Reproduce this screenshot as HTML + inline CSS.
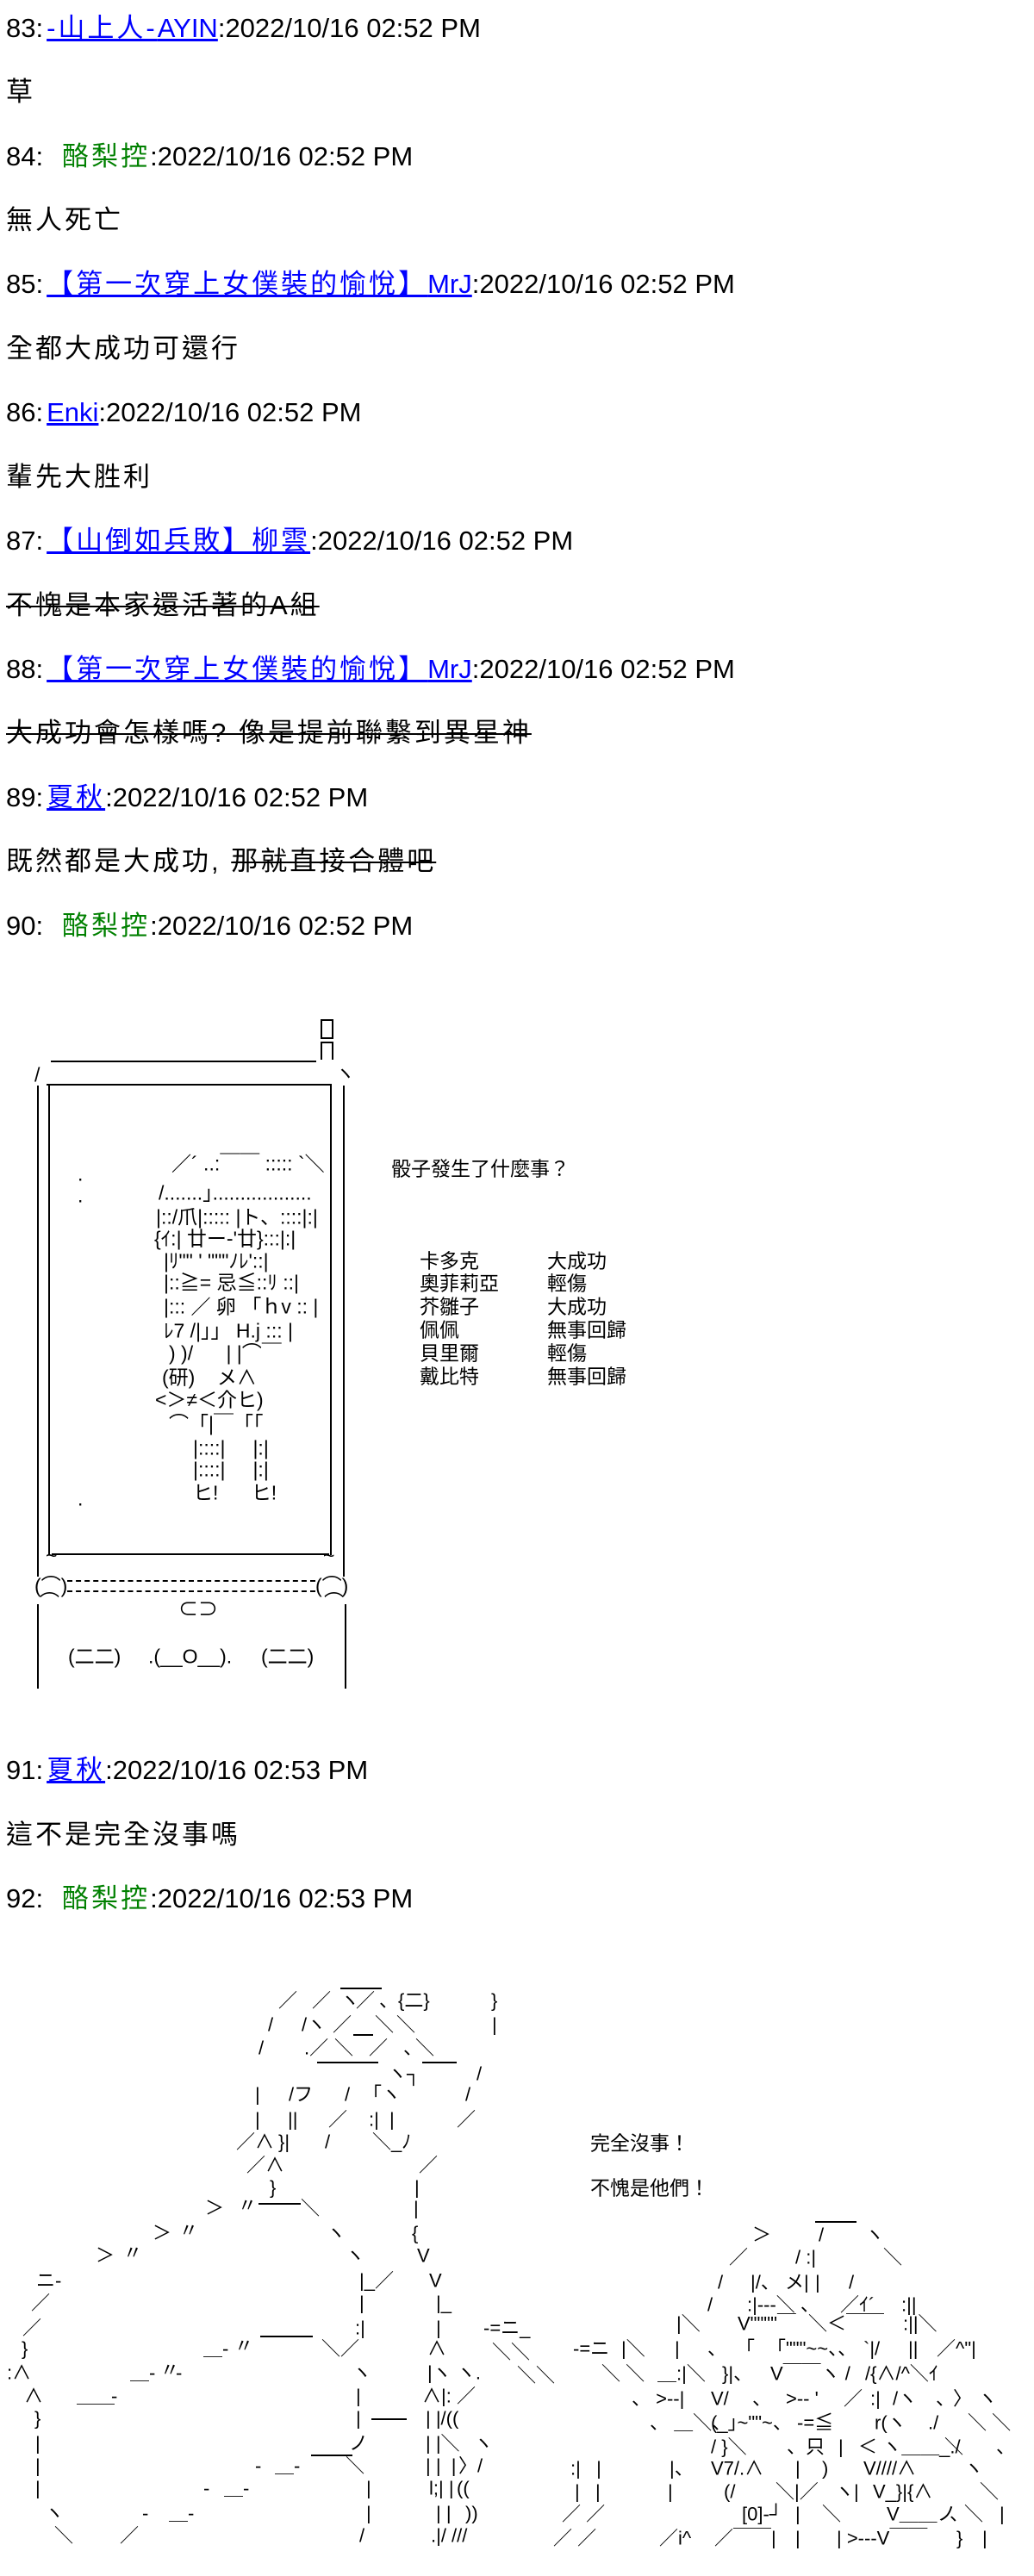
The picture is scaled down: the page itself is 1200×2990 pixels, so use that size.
<!DOCTYPE html>
<html><head><meta charset="utf-8"><style>
html,body{margin:0;padding:0;background:#fff;}
body{width:1200px;height:2990px;position:relative;overflow:hidden;font-family:"Liberation Sans","Noto Sans CJK TC","Noto Sans CJK JP",sans-serif;color:#000;}
.p{position:absolute;left:7px;font-size:31px;line-height:40px;white-space:pre;transform:translateY(-50%);}
.c{letter-spacing:3px;}
.lk{color:#00f;text-decoration:underline;letter-spacing:3px;margin-left:4px;}
.lt{letter-spacing:0;}
.gr{color:#008000;letter-spacing:3px;margin-left:22px;}
.s{text-decoration:line-through;text-decoration-thickness:2px;}
.a{position:absolute;white-space:pre;font-size:22px;line-height:27px;transform:translateY(-50%);font-family:"Liberation Sans","Noto Sans CJK JP",sans-serif;}
.b{font-size:23px;}
.h{position:absolute;height:2px;background:#000;}
.v{position:absolute;width:2px;background:#000;}
.d{position:absolute;height:0;border-top:2px dashed #000;}
</style></head><body>

<div class="p" style="top:33px">83:<span class="lk">-山上人-<span class="lt">AYIN</span></span>:2022/10/16 02:52 PM</div>
<div class="p c" style="top:107px">草</div>
<div class="p" style="top:182px">84:<span class="gr">酪梨控</span>:2022/10/16 02:52 PM</div>
<div class="p c" style="top:256px">無人死亡</div>
<div class="p" style="top:330px">85:<span class="lk">【第一次穿上女僕裝的愉悅】<span class="lt">MrJ</span></span>:2022/10/16 02:52 PM</div>
<div class="p c" style="top:405px">全都大成功可還行</div>
<div class="p" style="top:479px">86:<span class="lk"><span class="lt">Enki</span></span>:2022/10/16 02:52 PM</div>
<div class="p c" style="top:554px">輩先大胜利</div>
<div class="p" style="top:628px">87:<span class="lk">【山倒如兵敗】柳雲</span>:2022/10/16 02:52 PM</div>
<div class="p c s" style="top:703px">不愧是本家還活著的A組</div>
<div class="p" style="top:777px">88:<span class="lk">【第一次穿上女僕裝的愉悅】<span class="lt">MrJ</span></span>:2022/10/16 02:52 PM</div>
<div class="p c s" style="top:851px">大成功會怎樣嗎? 像是提前聯繫到異星神</div>
<div class="p" style="top:926px">89:<span class="lk">夏秋</span>:2022/10/16 02:52 PM</div>
<div class="p c" style="top:1000px">既然都是大成功, <span class="s">那就直接合體吧</span></div>
<div class="p" style="top:1075px">90:<span class="gr">酪梨控</span>:2022/10/16 02:52 PM</div>

<!-- AA1 phone -->
<div style="position:absolute;left:372px;top:1183px;width:11px;height:19px;border:2px solid #000;"></div>
<div style="position:absolute;left:372px;top:1209px;width:11px;height:19px;border:2px solid #000;border-bottom:none;"></div>
<div class="h" style="left:59px;top:1231px;width:308px"></div>
<div class="a b" style="left:40px;top:1248px">/</div>
<div class="a b" style="left:389px;top:1246px">ヽ</div>
<div class="h" style="left:54px;top:1258px;width:331px"></div>
<div class="v" style="left:43px;top:1260px;height:570px"></div>
<div class="v" style="left:398px;top:1260px;height:570px"></div>
<div class="v" style="left:56px;top:1260px;height:545px"></div>
<div class="v" style="left:383px;top:1260px;height:545px"></div>
<div class="h" style="left:60px;top:1803px;width:322px"></div>
<div class="a b" style="left:53px;top:1806px">~</div>
<div class="a b" style="left:375px;top:1806px">~</div>
<div class="a b" style="left:40px;top:1841px">(⌒)</div>
<div class="a b" style="left:366px;top:1841px">(⌒)</div>
<div class="d" style="left:78px;top:1834px;width:288px"></div>
<div class="d" style="left:78px;top:1846px;width:288px"></div>
<div class="a b" style="left:46px;top:1860px">⌒</div>
<div class="a b" style="left:376px;top:1860px">⌒</div>
<div class="v" style="left:43px;top:1862px;height:98px"></div>
<div class="v" style="left:400px;top:1862px;height:98px"></div>
<div class="a b" style="left:207px;top:1868px">⊂⊃</div>
<div class="a b" style="left:79px;top:1923px">(二二)</div>
<div class="a b" style="left:172px;top:1923px">.(__O__).</div>
<div class="a b" style="left:303px;top:1923px">(二二)</div>
<div class="a b" style="left:90px;top:1363px">.</div>
<div class="a b" style="left:90px;top:1388px">.</div>
<div class="a b" style="left:90px;top:1740px">.</div>
<!-- figure -->
<div class="a b" style="left:199px;top:1351px">／´ ..:￣￣ ::::: `＼</div>
<div class="a b" style="left:184px;top:1385px">/.......｣..................</div>
<div class="a b" style="left:181px;top:1413px">|::/爪|::::: |ト、::::|:|</div>
<div class="a b" style="left:179px;top:1438px">{ｲ:| 廿ー‐'廿}:::|:|</div>
<div class="a b" style="left:190px;top:1464px">|ﾘ"" ' """ﾉﾚ'::|</div>
<div class="a b" style="left:190px;top:1489px">|::≧= 忌≦::ﾘ ::|</div>
<div class="a b" style="left:190px;top:1517px">|::: ／ 卵 「ｈv :: |</div>
<div class="a b" style="left:190px;top:1545px">ﾚ7 /|」」 H.j ::: |</div>
<div class="a b" style="left:196px;top:1571px">) )/      | |⌒￣</div>
<div class="a b" style="left:188px;top:1599px">(研)    メ∧</div>
<div class="a b" style="left:180px;top:1625px">&lt;＞≠＜介ヒ)</div>
<div class="a b" style="left:196px;top:1653px">⌒「|￣「「</div>
<div class="a b" style="left:224px;top:1681px">|::::|     |:|</div>
<div class="a b" style="left:224px;top:1706px">|::::|     |:|</div>
<div class="a b" style="left:224px;top:1733px">ヒ!      ヒ!</div>
<div class="a b" style="left:454px;top:1357px">骰子發生了什麼事？</div>
<div class="a b" style="left:487px;top:1464px">卡多克</div><div class="a b" style="left:635px;top:1464px">大成功</div>
<div class="a b" style="left:487px;top:1490px">奧菲莉亞</div><div class="a b" style="left:635px;top:1490px">輕傷</div>
<div class="a b" style="left:487px;top:1517px">芥雛子</div><div class="a b" style="left:635px;top:1517px">大成功</div>
<div class="a b" style="left:487px;top:1544px">佩佩</div><div class="a b" style="left:635px;top:1544px">無事回歸</div>
<div class="a b" style="left:487px;top:1571px">貝里爾</div><div class="a b" style="left:635px;top:1571px">輕傷</div>
<div class="a b" style="left:487px;top:1598px">戴比特</div><div class="a b" style="left:635px;top:1598px">無事回歸</div>

<div class="p" style="top:2055px">91:<span class="lk">夏秋</span>:2022/10/16 02:53 PM</div>
<div class="p c" style="top:2130px">這不是完全沒事嗎</div>
<div class="p" style="top:2204px">92:<span class="gr">酪梨控</span>:2022/10/16 02:53 PM</div>

<!-- AA2 -->
<div class="h" style="left:395px;top:2307px;width:48px"></div>
<div class="a" style="left:323px;top:2322px">／</div><div class="a" style="left:362px;top:2322px">／</div><div class="a" style="left:395px;top:2322px">ヽ</div><div class="a" style="left:413px;top:2322px">／</div><div class="a" style="left:440px;top:2322px">、</div><div class="a" style="left:462px;top:2322px">{二}</div><div class="a" style="left:570px;top:2322px">}</div>
<div class="a" style="left:311px;top:2350px">/</div><div class="a" style="left:350px;top:2350px">/ヽ</div><div class="a" style="left:386px;top:2350px">／</div><div class="a" style="left:435px;top:2350px">＼</div><div class="a" style="left:460px;top:2350px">＼</div><div class="a" style="left:571px;top:2350px">|</div>
<div class="h" style="left:410px;top:2361px;width:23px"></div>
<div class="a" style="left:300px;top:2377px">/</div><div class="a" style="left:353px;top:2377px">.／</div><div class="a" style="left:388px;top:2377px">＼</div><div class="a" style="left:428px;top:2377px">／</div><div class="a" style="left:468px;top:2377px">、</div><div class="a" style="left:482px;top:2377px">＼</div>
<div class="h" style="left:368px;top:2393px;width:71px"></div><div class="h" style="left:490px;top:2393px;width:40px"></div>
<div class="a" style="left:450px;top:2407px">ヽ┐</div><div class="a" style="left:553px;top:2407px">/</div>
<div class="a" style="left:296px;top:2431px">|</div><div class="a" style="left:335px;top:2431px">/フ</div><div class="a" style="left:400px;top:2431px">/</div><div class="a" style="left:432px;top:2431px">｢ヽ</div><div class="a" style="left:540px;top:2431px">/</div>
<div class="a" style="left:296px;top:2460px">|</div><div class="a" style="left:334px;top:2460px">||</div><div class="a" style="left:381px;top:2460px">／</div><div class="a" style="left:428px;top:2460px">:|  |</div><div class="a" style="left:530px;top:2460px">／</div>
<div class="a" style="left:274px;top:2486px">／∧</div><div class="a" style="left:323px;top:2486px">}|</div><div class="a" style="left:377px;top:2486px">/</div><div class="a" style="left:432px;top:2486px">＼_ﾉ</div>
<div class="a" style="left:286px;top:2513px">／∧</div><div class="a" style="left:486px;top:2513px">／</div>
<div class="a" style="left:313px;top:2539px">}</div><div class="a" style="left:481px;top:2539px">|</div>
<div class="h" style="left:300px;top:2557px;width:49px"></div>
<div class="a" style="left:238px;top:2563px">＞</div><div class="a" style="left:276px;top:2560px">〃</div><div class="a" style="left:349px;top:2563px">＼</div><div class="a" style="left:480px;top:2563px">|</div>
<div class="a" style="left:177px;top:2592px">＞</div><div class="a" style="left:208px;top:2589px">〃</div><div class="a" style="left:379px;top:2592px">ヽ</div><div class="a" style="left:478px;top:2592px">{</div>
<div class="a" style="left:111px;top:2618px">＞</div><div class="a" style="left:143px;top:2615px">〃</div><div class="a" style="left:401px;top:2618px">ヽ</div><div class="a" style="left:484px;top:2618px">V</div>
<div class="a" style="left:42px;top:2647px">ニ‐</div><div class="a" style="left:417px;top:2647px">|_／</div><div class="a" style="left:498px;top:2647px">V</div>
<div class="a" style="left:36px;top:2673px">／</div><div class="a" style="left:417px;top:2673px">|</div><div class="a" style="left:506px;top:2673px">|_</div>
<div class="a" style="left:26px;top:2702px">／</div><div class="h" style="left:302px;top:2711px;width:61px"></div><div class="a" style="left:412px;top:2702px">:|</div><div class="a" style="left:506px;top:2702px">|</div><div class="a" style="left:561px;top:2702px">‐=ニ_</div>
<div class="a" style="left:25px;top:2726px">}</div><div class="a" style="left:236px;top:2726px">＿‐</div><div class="a" style="left:272px;top:2723px">〃</div><div class="a" style="left:373px;top:2726px">＼／</div><div class="a" style="left:496px;top:2726px">∧</div><div class="a" style="left:571px;top:2730px">＼＼</div>
<div class="a" style="left:8px;top:2754px">:∧</div><div class="a" style="left:151px;top:2754px">＿‐</div><div class="a" style="left:186px;top:2751px">〃</div><div class="a" style="left:204px;top:2754px">‐</div><div class="a" style="left:409px;top:2754px">ヽ</div><div class="a" style="left:496px;top:2754px">|ヽ ヽ.</div><div class="a" style="left:600px;top:2757px">＼＼</div>
<div class="a" style="left:28px;top:2781px">∧</div><div class="a" style="left:89px;top:2781px">＿＿</div><div class="a" style="left:129px;top:2781px">‐</div><div class="a" style="left:413px;top:2781px">|</div><div class="a" style="left:490px;top:2781px">∧|: ／</div>
<div class="a" style="left:40px;top:2807px">}</div><div class="a" style="left:413px;top:2807px">|</div><div class="h" style="left:431px;top:2807px;width:41px"></div><div class="a" style="left:494px;top:2807px">| |/((</div>
<div class="a" style="left:41px;top:2836px">|</div><div class="h" style="left:361px;top:2849px;width:48px"></div><div class="a" style="left:405px;top:2836px">ノ</div><div class="a" style="left:494px;top:2836px">| |＼</div><div class="a" style="left:550px;top:2836px">ヽ</div>
<div class="a" style="left:41px;top:2862px">|</div><div class="a" style="left:296px;top:2862px">‐</div><div class="a" style="left:319px;top:2862px">＿‐</div><div class="a" style="left:401px;top:2862px">＼</div><div class="a" style="left:494px;top:2862px">| |  |</div><div class="a" style="left:532px;top:2862px">〉/</div>
<div class="a" style="left:41px;top:2888px">|</div><div class="a" style="left:236px;top:2888px">‐</div><div class="a" style="left:260px;top:2888px">＿‐</div><div class="a" style="left:425px;top:2888px">|</div><div class="a" style="left:498px;top:2888px">l;| |</div><div class="a" style="left:530px;top:2888px">((</div>
<div class="a" style="left:52px;top:2917px">ヽ</div><div class="a" style="left:165px;top:2917px">‐</div><div class="a" style="left:196px;top:2917px">＿‐</div><div class="a" style="left:425px;top:2917px">|</div><div class="a" style="left:506px;top:2917px">| |</div><div class="a" style="left:540px;top:2917px">))</div>
<div class="a" style="left:63px;top:2943px">＼</div><div class="a" style="left:139px;top:2943px">／</div><div class="a" style="left:417px;top:2943px">/</div><div class="a" style="left:500px;top:2943px">.|/ ///</div>

<div class="a b" style="left:685px;top:2488px">完全沒事！</div>
<div class="a b" style="left:685px;top:2540px">不愧是他們！</div>
<div class="h" style="left:946px;top:2578px;width:48px"></div>
<div class="a" style="left:873px;top:2594px">＞</div><div class="a" style="left:950px;top:2594px">/</div><div class="a" style="left:1004px;top:2594px">ヽ</div>
<div class="a" style="left:846px;top:2620px">／</div><div class="a" style="left:923px;top:2620px">/ :|</div><div class="a" style="left:1025px;top:2620px">＼</div>
<div class="a" style="left:833px;top:2649px">/</div><div class="a" style="left:871px;top:2649px">|/、 メ|</div><div class="a" style="left:946px;top:2649px">|</div><div class="a" style="left:985px;top:2649px">/</div>
<div class="a" style="left:821px;top:2675px">/</div><div class="a" style="left:867px;top:2675px">:|‐‐‐＼ 、</div><div class="a" style="left:975px;top:2675px">／ｲ´</div><div class="a" style="left:1046px;top:2675px">:||</div>
<div class="a" style="left:785px;top:2697px">|＼</div><div class="a" style="left:856px;top:2697px">V""""￣</div><div class="a" style="left:938px;top:2697px">＼＜￣￣</div><div class="a" style="left:1048px;top:2697px">:||＼</div>
<div class="a" style="left:665px;top:2726px">‐=ニ</div><div class="a" style="left:721px;top:2726px">|＼</div><div class="a" style="left:783px;top:2726px">|</div><div class="a" style="left:821px;top:2726px">、</div><div class="a" style="left:854px;top:2726px">「</div><div class="a" style="left:890px;top:2726px">「"""~~、、</div><div class="a" style="left:1002px;top:2726px">`|/</div><div class="a" style="left:1054px;top:2726px">||</div><div class="a" style="left:1087px;top:2726px">／^"|</div>
<div class="a" style="left:698px;top:2755px">＼ ＼</div><div class="a" style="left:763px;top:2755px">＿:|＼</div><div class="a" style="left:838px;top:2755px">}|、</div><div class="a" style="left:894px;top:2755px">V￣￣ヽ /</div><div class="a" style="left:1004px;top:2755px">/{∧/^＼ｲ</div>
<div class="a" style="left:733px;top:2784px">、 &gt;‐‐|</div><div class="a" style="left:825px;top:2784px">V/</div><div class="a" style="left:873px;top:2784px">、</div><div class="a" style="left:912px;top:2784px">&gt;‐‐ '</div><div class="a" style="left:979px;top:2784px">／</div><div class="a" style="left:1010px;top:2784px">:|</div><div class="a" style="left:1036px;top:2784px">/ヽ</div><div class="a" style="left:1086px;top:2784px">、</div><div class="a" style="left:1106px;top:2784px">〉</div><div class="a" style="left:1135px;top:2784px">ヽ</div>
<div class="a" style="left:754px;top:2812px">、 ＿＼、</div><div class="a" style="left:825px;top:2812px">(_｣~""~、</div><div class="a" style="left:925px;top:2812px">‐=≦</div><div class="a" style="left:1015px;top:2812px">r(ヽ</div><div class="a" style="left:1077px;top:2812px">./</div><div class="a" style="left:1123px;top:2812px">＼ ＼</div>
<div class="a" style="left:825px;top:2840px">/ }＼</div><div class="a" style="left:913px;top:2840px">、只</div><div class="a" style="left:973px;top:2840px">|</div><div class="a" style="left:996px;top:2840px">＜ ヽ＿＿_./</div><div class="a" style="left:1096px;top:2840px">＼</div><div class="a" style="left:1156px;top:2840px">、</div>
<div class="a" style="left:662px;top:2865px">:|   |</div><div class="a" style="left:777px;top:2865px">|、</div><div class="a" style="left:825px;top:2865px">V7/.∧</div><div class="a" style="left:923px;top:2865px">|</div><div class="a" style="left:954px;top:2865px">)</div><div class="a" style="left:1002px;top:2865px">V////∧</div><div class="a" style="left:1119px;top:2865px">ヽ</div>
<div class="a" style="left:667px;top:2892px">|   |</div><div class="a" style="left:775px;top:2892px">|</div><div class="a" style="left:840px;top:2892px">(/</div><div class="a" style="left:900px;top:2892px">＼|／</div><div class="a" style="left:969px;top:2892px">ヽ|</div><div class="a" style="left:1013px;top:2892px">V_}|{∧</div><div class="a" style="left:1137px;top:2892px">＼</div>
<div class="a" style="left:652px;top:2918px">／ ／</div><div class="a" style="left:861px;top:2918px">[0]‐┘</div><div class="a" style="left:923px;top:2918px">|</div><div class="a" style="left:954px;top:2918px">＼</div><div class="a" style="left:1029px;top:2918px">V＿＿ノ</div><div class="a" style="left:1102px;top:2918px">、</div><div class="a" style="left:1119px;top:2918px">＼</div><div class="a" style="left:1160px;top:2918px">|</div>
<div class="a" style="left:642px;top:2946px">／ ／</div><div class="a" style="left:765px;top:2946px">／i^</div><div class="a" style="left:829px;top:2946px">／￣￣|</div><div class="a" style="left:923px;top:2946px">|</div><div class="a" style="left:971px;top:2946px">| &gt;‐‐‐V￣￣</div><div class="a" style="left:1110px;top:2946px">}</div><div class="a" style="left:1140px;top:2946px">|</div>
</body></html>
